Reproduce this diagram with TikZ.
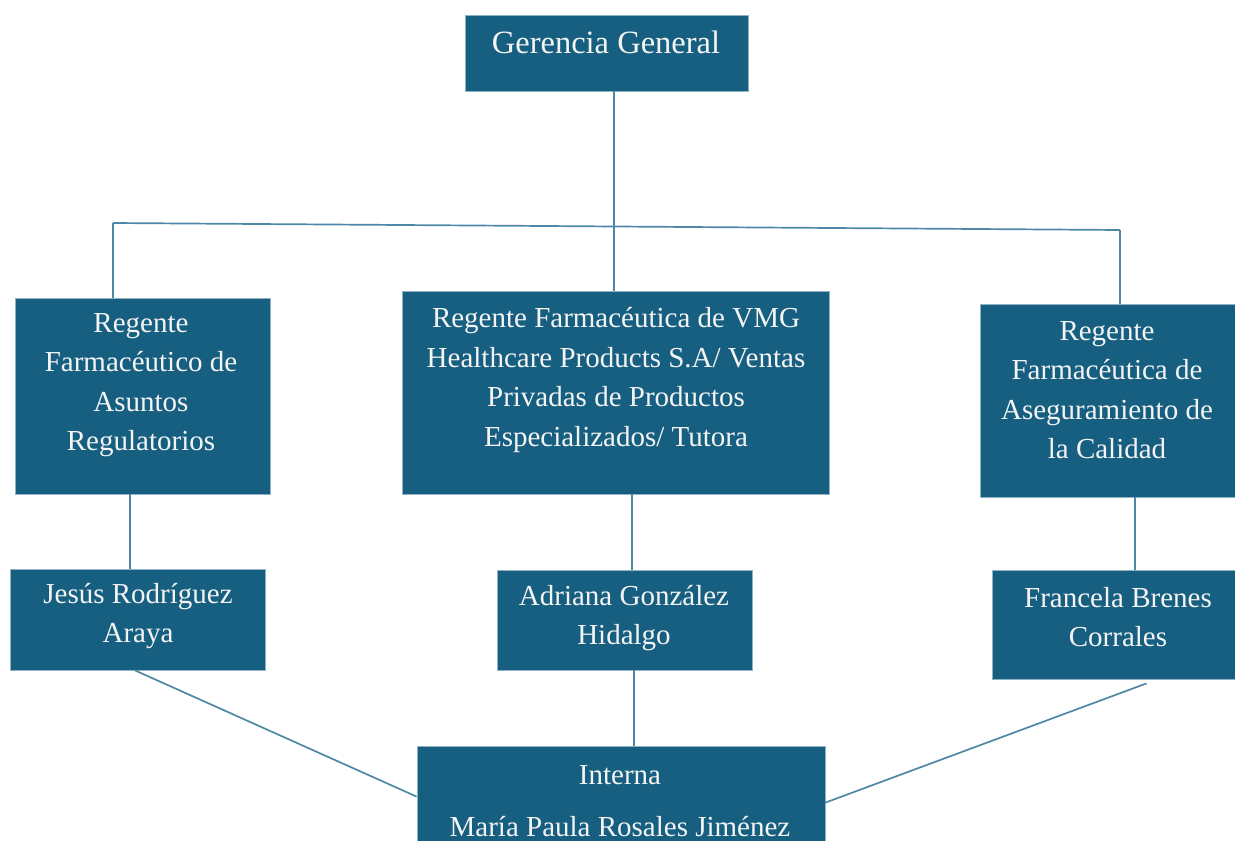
\documentclass[tikz,border=0pt]{standalone}
\usepackage{fontspec}
\setmainfont{Liberation Serif}
\usetikzlibrary{calc}
\definecolor{boxfill}{HTML}{175F81}
\definecolor{boxedge}{HTML}{8FB3C6}
\definecolor{linkcol}{HTML}{4F88A6}
\definecolor{txtcol}{HTML}{F4F4F4}
\tikzset{
  unit/.style={draw=boxedge, line width=0.8bp, fill=boxfill, inner sep=0pt},
  lbl/.style={text=txtcol, align=center, inner sep=0pt,
    font=\fontsize{29bp}{39.5bp}\selectfont},
  link/.style={draw=linkcol, line width=1.7bp},
}
\begin{document}
\begin{tikzpicture}[x=1bp,y=-1bp]
\useasboundingbox (0,0) rectangle (1235,841);

% boxes
\node[unit, minimum width=283bp, minimum height=76bp] (ger) at (606.5,53) {};
\node[unit, minimum width=255bp, minimum height=196bp] (reg1) at (142.5,396) {};
\node[unit, minimum width=427bp, minimum height=203bp] (reg2) at (615.5,392.5) {};
\node[unit, minimum width=257bp, minimum height=193bp] (reg3) at (1108.5,400.5) {};
\node[unit, minimum width=255bp, minimum height=101bp] (jes) at (137.5,619.5) {};
\node[unit, minimum width=255bp, minimum height=100bp] (adr) at (624.5,620) {};
\node[unit, minimum width=245bp, minimum height=109bp] (fra) at (1114.5,624.5) {};
\node[unit, minimum width=408bp, minimum height=120bp] (int) at (621,806) {};

% labels
\node[lbl, font=\fontsize{32.5bp}{39.5bp}\selectfont] (t-ger) at (606,42) {Gerencia General};
\node[lbl] (t-reg1) at (141,385) {Regente\\Farmacéutico de\\Asuntos\\Regulatorios};
\node[lbl] (t-reg2) at (616,380) {Regente Farmacéutica de VMG\\Healthcare Products S.A/ Ventas\\Privadas de Productos\\Especializados/ Tutora};
\node[lbl] (t-reg3) at (1107,390) {Regente\\Farmacéutica de\\Aseguramiento de\\la Calidad};
\node[lbl] (t-jes) at (138,616) {Jesús Rodríguez\\Araya};
\node[lbl] (t-adr) at (624,618) {Adriana González\\Hidalgo};
\node[lbl] (t-fra) at (1118,617) {Francela Brenes\\Corrales};
\node[lbl, font=\fontsize{29bp}{52bp}\selectfont] (t-int) at (620,801) {Interna\\María Paula Rosales Jiménez};

% bus from the top office to the three regent offices
\coordinate (busL) at (113,223);
\coordinate (busM) at (614,226.5);
\coordinate (busR) at (1120,230);
\draw[link] (ger.south -| busM) -- (reg2.north -| busM);
\draw[link] (busL) -- (busR);
\draw[link] (busL) -- (reg1.north -| busL);
\draw[link] (busR) -- (reg3.north -| busR);

% regent offices to their staff
\draw[link] (reg1.south -| 130,0) -- (jes.north -| 130,0);
\draw[link] (reg2.south -| 632,0) -- (adr.north -| 632,0);
\draw[link] (reg3.south -| 1135,0) -- (fra.north -| 1135,0);

% staff to the intern
\draw[link] (jes.south -| 135,0) -- ($(int.north west)+(0,51)$);
\draw[link] (adr.south -| 634,0) -- (int.north -| 634,0);
\draw[link] ($(fra.south)+(32,4)$) -- ($(int.north east)+(0,57)$);
\end{tikzpicture}
\end{document}
